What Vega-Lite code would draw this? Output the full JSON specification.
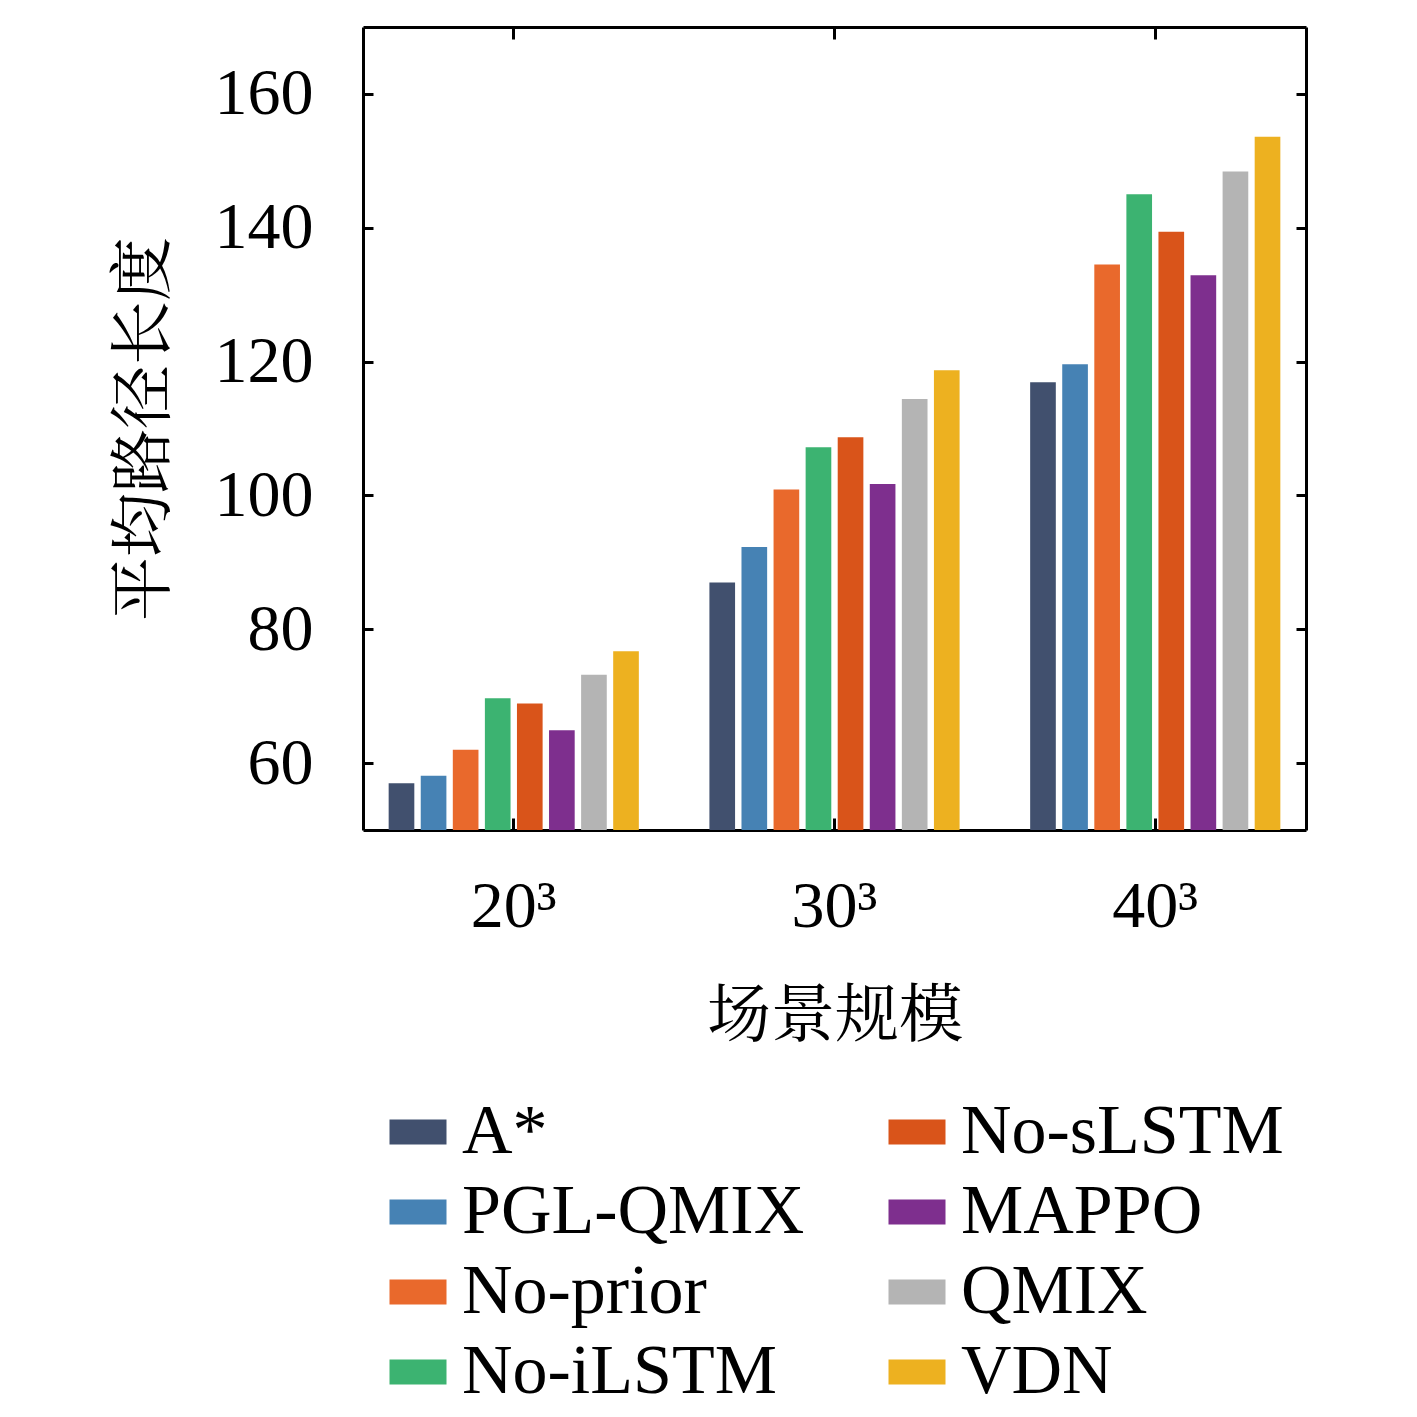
{
  "$schema": "https://vega.github.io/schema/vega-lite/v6.json",
  "description": "Average path length by scene size and method",
  "width": 943,
  "height": 803,
  "autosize": {"type": "none"},
  "padding": {"left": 363, "top": 27, "right": 111, "bottom": 587},
  "background": "white",
  "config": {
    "view": {"stroke": null},
    "font": "Liberation Serif",
    "axis": {
      "domain": true,
      "domainColor": "black",
      "domainWidth": 3,
      "tickColor": "black",
      "tickWidth": 3,
      "labelColor": "black",
      "labelFont": "Liberation Serif",
      "labelFontSize": 66,
      "labelOverlap": false,
      "labelBound": false,
      "grid": false,
      "titleFont": "Noto Serif CJK SC, Noto Sans CJK SC",
      "titleFontSize": 64,
      "titleFontWeight": "normal",
      "titleColor": "black"
    },
    "legend": {
      "labelFont": "Liberation Serif",
      "labelFontSize": 70,
      "labelColor": "black",
      "labelLimit": 600
    }
  },
  "data": {
    "values": [
      {"scene": "20³", "method": "A*", "value": 57.0},
      {"scene": "20³", "method": "PGL-QMIX", "value": 58.1},
      {"scene": "20³", "method": "No-prior", "value": 62.0},
      {"scene": "20³", "method": "No-iLSTM", "value": 69.7},
      {"scene": "20³", "method": "No-sLSTM", "value": 68.9},
      {"scene": "20³", "method": "MAPPO", "value": 64.9},
      {"scene": "20³", "method": "QMIX", "value": 73.2},
      {"scene": "20³", "method": "VDN", "value": 76.7},
      {"scene": "30³", "method": "A*", "value": 87.0},
      {"scene": "30³", "method": "PGL-QMIX", "value": 92.3},
      {"scene": "30³", "method": "No-prior", "value": 100.9},
      {"scene": "30³", "method": "No-iLSTM", "value": 107.2},
      {"scene": "30³", "method": "No-sLSTM", "value": 108.7},
      {"scene": "30³", "method": "MAPPO", "value": 101.7},
      {"scene": "30³", "method": "QMIX", "value": 114.4},
      {"scene": "30³", "method": "VDN", "value": 118.7},
      {"scene": "40³", "method": "A*", "value": 116.9},
      {"scene": "40³", "method": "PGL-QMIX", "value": 119.6},
      {"scene": "40³", "method": "No-prior", "value": 134.5},
      {"scene": "40³", "method": "No-iLSTM", "value": 145.0},
      {"scene": "40³", "method": "No-sLSTM", "value": 139.4},
      {"scene": "40³", "method": "MAPPO", "value": 132.9},
      {"scene": "40³", "method": "QMIX", "value": 148.4},
      {"scene": "40³", "method": "VDN", "value": 153.6}
    ]
  },
  "layer": [
    {
      "mark": {"type": "bar", "clip": true},
      "encoding": {
        "x": {
          "field": "scene",
          "type": "nominal",
          "sort": ["20³", "30³", "40³"],
          "scale": {"paddingInner": 0.2, "paddingOuter": 0.07},
          "axis": {
            "orient": "bottom",
            "title": "场景规模",
            "labelAngle": 0,
            "tickSize": -12,
            "labelPadding": 56,
            "titlePadding": 45
          }
        },
        "xOffset": {
          "field": "method",
          "type": "nominal",
          "sort": ["A*", "PGL-QMIX", "No-prior", "No-iLSTM", "No-sLSTM", "MAPPO", "QMIX", "VDN"],
          "scale": {"paddingInner": 0.2, "paddingOuter": 0.1}
        },
        "y": {
          "field": "value",
          "type": "quantitative",
          "scale": {"domain": [50, 170], "nice": false, "zero": false},
          "axis": {
            "orient": "left",
            "title": "平均路径长度",
            "values": [60, 80, 100, 120, 140, 160],
            "tickSize": -10,
            "labelPadding": 60,
            "titlePadding": 38
          }
        },
        "color": {
          "field": "method",
          "type": "nominal",
          "scale": {
            "domain": ["A*", "PGL-QMIX", "No-prior", "No-iLSTM", "No-sLSTM", "MAPPO", "QMIX", "VDN"],
            "range": ["#41506e", "#4682b4", "#e9692c", "#3cb371", "#d9541a", "#7e2f8e", "#b4b4b4", "#edb120"]
          },
          "legend": {
            "title": null,
            "orient": "none",
            "legendX": 20,
            "legendY": 1070,
            "columns": 2,
            "padding": 0,
            "columnPadding": 77,
            "rowPadding": 10,
            "labelOffset": 9,
            "symbolType": "M-1,-0.44L1,-0.44L1,0.44L-1,0.44Z",
            "symbolSize": 3249,
            "symbolStrokeWidth": 0,
            "symbolOpacity": 1
          }
        }
      }
    },
    {
      "mark": {"type": "bar", "opacity": 0},
      "encoding": {
        "x": {
          "field": "scene",
          "type": "nominal",
          "sort": ["20³", "30³", "40³"],
          "axis": {"orient": "top", "title": null, "labels": false, "tickSize": -12}
        },
        "y": {
          "field": "value",
          "type": "quantitative",
          "axis": {
            "orient": "right",
            "title": null,
            "labels": false,
            "values": [60, 80, 100, 120, 140, 160],
            "tickSize": -10
          }
        }
      }
    }
  ],
  "resolve": {"axis": {"x": "independent", "y": "independent"}}
}
